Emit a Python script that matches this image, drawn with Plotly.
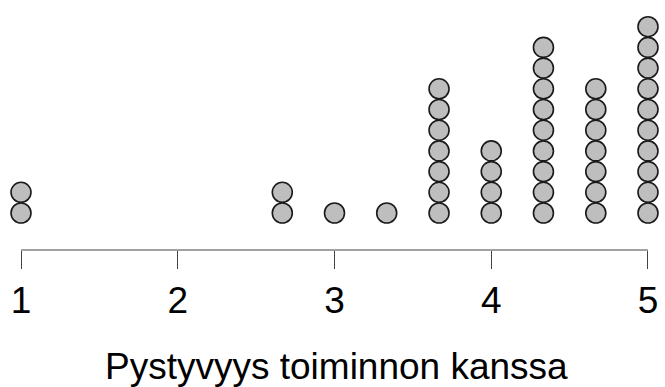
import plotly.graph_objects as go

# Stacked dot plot of ratings
scores = [1, 2.667, 3, 3.333, 3.667, 4, 4.333, 4.667, 5]
counts = [2, 2, 1, 1, 7, 4, 9, 7, 10]
tick_values = [1, 2, 3, 4, 5]
tick_labels = ["1", "2", "3", "4", "5"]
x_title = "Pystyvyys toiminnon kanssa"

xs, ys = [], []
for s, n in zip(scores, counts):
    for k in range(n):
        xs.append(s)
        ys.append(k)

fig = go.Figure()
fig.add_trace(go.Scatter(
    x=xs, y=ys, mode="markers",
    marker=dict(size=20, color="#bebebe", line=dict(color="#1a1a1a", width=1.6)),
    hoverinfo="skip",
))

font_family = "Liberation Sans, Arial, sans-serif"

fig.update_layout(
    width=665, height=387,
    margin=dict(l=0, r=0, t=0, b=137),
    paper_bgcolor="white", plot_bgcolor="white",
    showlegend=False,
    xaxis=dict(
        range=[0.866, 5.1085], showgrid=False, zeroline=False, showline=False,
        tickmode="array", tickvals=tick_values, ticktext=tick_labels,
        ticks="outside", ticklen=18, tickwidth=1, tickcolor="#444",
        tickfont=dict(family=font_family, size=37, color="black"),
        ticklabelstandoff=0,
    ),
    yaxis=dict(
        range=[-1.787, 10.29], showgrid=False, zeroline=False, showline=False,
        showticklabels=False, ticks="",
    ),
    shapes=[dict(
        type="line", xref="x", yref="paper", x0=tick_values[0], x1=tick_values[-1],
        y0=0, y1=0, line=dict(color="#444", width=1),
    )],
    annotations=[dict(
        text=x_title, xref="paper", yref="paper", x=336.5 / 665, y=-0.465,
        xanchor="center", yanchor="middle", showarrow=False,
        font=dict(family=font_family, size=37, color="black"),
    )],
)

fig.write_html("out.html")
